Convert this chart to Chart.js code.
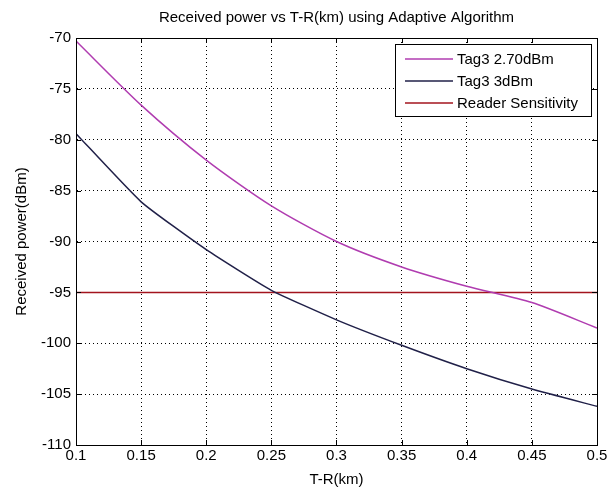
<!DOCTYPE html>
<html>
<head>
<meta charset="utf-8">
<script src="https://cdn.jsdelivr.net/npm/chart.js@4.4.1/dist/chart.umd.min.js"></script>
<style>
  html, body { margin: 0; padding: 0; background: #fff; }
  #wrap { width: 616px; height: 489px; }
</style>
</head>
<body>
<div id="wrap"><canvas id="PowerChart" width="616" height="489"></canvas></div>
<script>
// distance (km) and received power (dBm)
const distances = [0.1, 0.15, 0.2, 0.25, 0.3, 0.35, 0.4, 0.45, 0.5];
const tag270 = [-70.3, -76.6, -82.0, -86.5, -90.0, -92.5, -94.4, -96.0, -98.5];
const tag3 = [-79.4, -86.1, -90.8, -94.8, -97.7, -100.2, -102.5, -104.5, -106.2];
const sensitivity = [-95, -95, -95, -95, -95, -95, -95, -95, -95];
const seriesNames = ["Tag3 2.70dBm", "Tag3 3dBm", "Reader Sensitivity"];

const FONT = "'Liberation Sans', Arial, sans-serif";
const FS = 15;

function pts(ys) {
    return distances.map((x, i) => ({ x: x, y: ys[i] }));
}

// title, box border, inner tick marks and boxed legend, matlab style
let matlabBits = {
    id: "matlabBits",
    afterDraw(chart) {
        let ctx = chart.ctx;
        let a = chart.chartArea;
        let xs = chart.scales.x, ys = chart.scales.y;
        ctx.save();
        ctx.fillStyle = "#000";
        ctx.font = FS + "px " + FONT;
        ctx.textAlign = "center";
        ctx.textBaseline = "middle";
        ctx.fillText("Received power vs T-R(km) using Adaptive Algorithm", (a.left + a.right) / 2, 18);

        ctx.strokeStyle = "#000";
        ctx.lineWidth = 1;
        ctx.strokeRect(Math.round(a.left) + 0.5, Math.round(a.top) + 0.5,
            Math.round(a.right - a.left), Math.round(a.bottom - a.top));

        ctx.beginPath();
        xs.ticks.forEach(t => {
            let px = Math.round(xs.getPixelForValue(t.value)) + 0.5;
            ctx.moveTo(px, a.bottom); ctx.lineTo(px, a.bottom - 5);
            ctx.moveTo(px, a.top); ctx.lineTo(px, a.top + 5);
        });
        ys.ticks.forEach(t => {
            let py = Math.round(ys.getPixelForValue(t.value)) + 0.5;
            ctx.moveTo(a.left, py); ctx.lineTo(a.left + 5, py);
            ctx.moveTo(a.right, py); ctx.lineTo(a.right - 5, py);
        });
        ctx.stroke();

        // legend
        let lx = 395, ly = 44, lw = 196, lh = 72;
        ctx.fillStyle = "#fff";
        ctx.fillRect(lx, ly, lw, lh);
        ctx.strokeRect(lx + 0.5, ly + 0.5, lw, lh);
        ctx.textAlign = "left";
        chart.data.datasets.forEach((ds, i) => {
            let yy = ly + 15 + i * 22;
            ctx.strokeStyle = ds.borderColor;
            ctx.lineWidth = 1.5;
            ctx.beginPath();
            ctx.moveTo(lx + 10, yy); ctx.lineTo(lx + 58, yy);
            ctx.stroke();
            ctx.fillStyle = "#000";
            ctx.fillText(ds.label, lx + 62, yy + 1);
        });
        ctx.restore();
    }
};

let powerCanvas = document.getElementById("PowerChart").getContext("2d");
let powerChart = new Chart(powerCanvas, {
    type: "line",
    data: {
        datasets: [{
            label: seriesNames[0],
            data: pts(tag270),
            borderColor: "#b03cb0",
            borderWidth: 1.5,
            pointRadius: 0,
            tension: 0.25
        }, {
            label: seriesNames[1],
            data: pts(tag3),
            borderColor: "#202048",
            borderWidth: 1.5,
            pointRadius: 0,
            tension: 0.15
        }, {
            label: seriesNames[2],
            data: pts(sensitivity),
            borderColor: "#a3141e",
            borderWidth: 1.5,
            pointRadius: 0
        }]
    },
    plugins: [matlabBits],
    options: {
        responsive: false,
        animation: false,
        layout: { padding: { top: 38, right: 19, left: 13, bottom: 0 } },
        plugins: {
            legend: { display: false },
            title: { display: false },
            tooltip: { enabled: false }
        },
        scales: {
            x: {
                type: "linear",
                min: 0.1,
                max: 0.5,
                afterFit: s => { s.height = 44; },
                afterBuildTicks: s => {
                    s.ticks = distances.map(v => ({ value: v }));
                },
                ticks: {
                    color: "#000",
                    font: { family: FONT, size: FS },
                    padding: 2,
                    maxRotation: 0,
                    callback: v => String(+v.toFixed(2))
                },
                grid: { color: "#000", drawTicks: false, tickLength: 0, lineWidth: 1 },
                border: { display: true, color: "#000", dash: [1, 3] },
                title: {
                    display: true,
                    text: "T-R(km)",
                    color: "#000",
                    font: { family: FONT, size: FS },
                    padding: { top: 0, bottom: 0 }
                }
            },
            y: {
                min: -110,
                max: -70,
                afterFit: s => { s.width = 63; },
                ticks: {
                    stepSize: 5,
                    color: "#000",
                    font: { family: FONT, size: FS },
                    padding: 5
                },
                grid: { color: "#000", drawTicks: false, tickLength: 0, lineWidth: 1 },
                border: { display: true, color: "#000", dash: [1, 3] },
                title: {
                    display: true,
                    text: "Received power(dBm)",
                    color: "#000",
                    font: { family: FONT, size: FS },
                    padding: { top: 0, bottom: 0 }
                }
            }
        }
    }
});
</script>
</body>
</html>
